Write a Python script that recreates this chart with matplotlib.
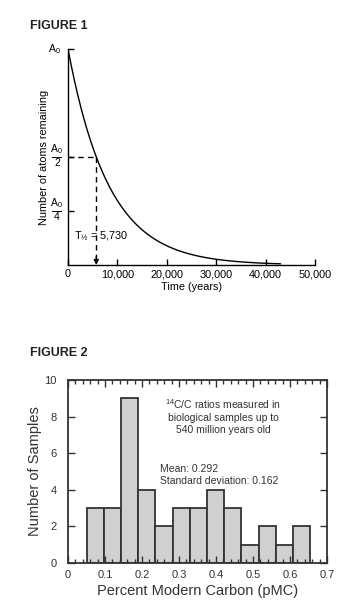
import numpy as np
import matplotlib
matplotlib.use("Agg")
import matplotlib.pyplot as plt
from matplotlib.ticker import MultipleLocator
from matplotlib.lines import Line2D

plt.rcParams['font.family'] = ['Liberation Sans', 'DejaVu Sans']
plt.rcParams['mathtext.fontset'] = 'custom'
plt.rcParams['mathtext.rm'] = 'Liberation Sans'
plt.rcParams['mathtext.it'] = 'Liberation Sans'

# ---- Figure 1 data ----
half_life = 5730
t_end = 43000
x_ticks1 = [0, 10000, 20000, 30000, 40000, 50000]
x_labels1 = ['0', '10,000', '20,000', '30,000', '40,000', '50,000']
y_ticks1 = [0.25, 0.5, 1.0]
y_denoms1 = ['4', '2', None]

# ---- Figure 2 data ----
bin_edges = [0.05, 0.0965, 0.143, 0.1895, 0.236, 0.2825, 0.329, 0.3755,
             0.422, 0.4685, 0.515, 0.5615, 0.608, 0.6545]
counts = [3, 3, 9, 4, 2, 3, 3, 4, 3, 1, 2, 1, 2]
x_ticks2 = [0, 0.1, 0.2, 0.3, 0.4, 0.5, 0.6, 0.7]
x_labels2 = ['0', '0.1', '0.2', '0.3', '0.4', '0.5', '0.6', '0.7']
y_ticks2 = [0, 2, 4, 6, 8, 10]
mean_val = 0.292
std_val = 0.162

W, H = 360, 604
fig = plt.figure(figsize=(W/100, H/100), dpi=100)

def fx(px):
    return px / W
def fy(py):
    return 1 - py / H

# ---------------- Figure 1 ----------------
ax1 = fig.add_axes([fx(68), fy(265), (315-68)/W, (265-49)/H])
t = np.linspace(0, t_end, 400)
ax1.plot(t, 0.5 ** (t / half_life), color='black', lw=1.0)
ax1.set_xlim(0, 50000)
ax1.set_ylim(0, 1)
for s in ['top', 'right']:
    ax1.spines[s].set_visible(False)
for s in ['left', 'bottom']:
    ax1.spines[s].set_linewidth(1.0)
ax1.set_xticks(x_ticks1)
ax1.set_xticklabels(x_labels1, fontsize=7.8)
ax1.set_yticks(y_ticks1)
ax1.set_yticklabels([])
ax1.tick_params(axis='both', direction='in', length=4, width=1.0, pad=3)
ax1.set_xlabel('Time (years)', fontsize=7.8, labelpad=2)
ax1.set_ylabel('Number of atoms remaining', fontsize=7.8, labelpad=11)

# y tick labels drawn as stacked fractions
tr = ax1.get_yaxis_transform()
for yv, den in zip(y_ticks1, y_denoms1):
    if den is None:
        ax1.text(-0.03, yv, r'A$_{\mathregular{0}}$', transform=tr, fontsize=7.5,
                 ha='right', va='center')
    else:
        ax1.text(-0.045, yv + 0.004, r'A$_{\mathregular{0}}$', transform=tr, fontsize=7.5,
                 ha='center', va='bottom')
        ax1.text(-0.045, yv - 0.006, den, transform=tr, fontsize=7.5,
                 ha='center', va='top')
        ax1.add_line(Line2D([-0.065, -0.028], [yv - 0.002, yv - 0.002], transform=tr,
                            color='black', lw=0.7, clip_on=False))

# dashed lines
ax1.plot([0, half_life], [0.5, 0.5], color='black', lw=1.0, ls=(0, (4, 3)))
ax1.plot([half_life, half_life], [0.5, 0.03], color='black', lw=1.0, ls=(0, (4, 3)))
ax1.annotate('', xy=(half_life, 0.0), xytext=(half_life, 0.04),
             arrowprops=dict(arrowstyle='-|>', color='black', lw=1.0,
                             mutation_scale=7, shrinkA=0, shrinkB=0))
ax1.text(1200, 0.13, r'T$_{\mathregular{½}}$ = 5,730', fontsize=7.8, va='center', ha='left')

fig.text(fx(30), fy(29), 'FIGURE 1', fontsize=9, fontweight='bold',
         family=['Liberation Sans Narrow', 'Liberation Sans'], ha='left', va='baseline',
         color='#222222')

# ---------------- Figure 2 ----------------
ax2 = fig.add_axes([fx(68), fy(563), (327-68)/W, (563-380)/H])
lefts = bin_edges[:-1]
widths = [b - a for a, b in zip(bin_edges[:-1], bin_edges[1:])]
ax2.bar(lefts, counts, width=widths, align='edge', color='#d0d0d0',
        edgecolor='#333333', linewidth=1.3)
ax2.set_xlim(0, 0.7)
ax2.set_ylim(0, 10)
for s in ax2.spines.values():
    s.set_linewidth(1.3)
    s.set_color('#333333')
ax2.set_xticks(x_ticks2)
ax2.set_xticklabels(x_labels2)
ax2.xaxis.set_minor_locator(MultipleLocator(0.02))
ax2.set_yticks(y_ticks2)
ax2.tick_params(axis='x', which='major', direction='in', length=5, width=1.0,
                top=True, labelsize=8, pad=5, colors='#333333')
ax2.tick_params(axis='x', which='minor', direction='in', length=3, width=1.0,
                top=True, colors='#333333')
ax2.tick_params(axis='y', which='major', direction='in', length=5, width=1.0,
                right=True, labelsize=8, pad=8, colors='#333333')
ax2.set_xlabel('Percent Modern Carbon (pMC)', fontsize=10.5, color='#333333', labelpad=3)
ax2.set_ylabel('Number of Samples', fontsize=10.5, color='#333333', labelpad=2)

ax2.text(0.42, 9.05, r'$^{\mathregular{14}}$C/C ratios measured in' + '\n'
         'biological samples up to\n540 million years old',
         fontsize=7.5, ha='center', va='top', color='#333333', linespacing=1.25)
ax2.text(0.25, 5.4, f'Mean: {mean_val:.3f}\nStandard deviation: {std_val:.3f}',
         fontsize=7.5, ha='left', va='top', color='#333333', linespacing=1.25)

fig.text(fx(30), fy(356), 'FIGURE 2', fontsize=9, fontweight='bold',
         family=['Liberation Sans Narrow', 'Liberation Sans'], ha='left', va='baseline',
         color='#222222')

fig.savefig('out.png', dpi=100)
